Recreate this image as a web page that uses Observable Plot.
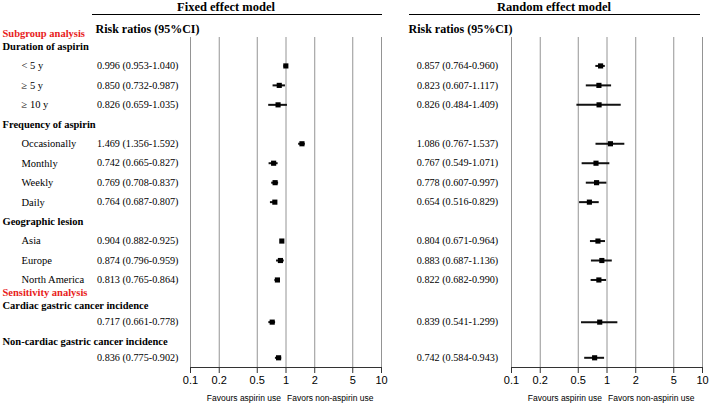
<!DOCTYPE html>
<html><head><meta charset="utf-8">
<script src="https://cdn.jsdelivr.net/npm/d3@7"></script>
<script src="https://cdn.jsdelivr.net/npm/@observablehq/plot@0.6"></script>
<style>
body{margin:0;background:#fff;}
#page{position:relative;width:709px;height:404px;overflow:hidden;font-family:"Liberation Serif","Times New Roman",serif;}
.title{position:absolute;top:0;font-weight:bold;font-size:12.5px;line-height:14px;text-align:center;white-space:nowrap;}
.rule{position:absolute;top:14px;height:0;border-top:1.5px solid #000;}
.panel{position:absolute;top:18px;}
</style></head><body>
<div id="page">
  <div class="title" id="t1" style="left:136px;width:180px;"></div>
  <div class="rule" style="left:92px;width:290px;"></div>
  <div class="title" id="t2" style="left:464px;width:180px;"></div>
  <div class="rule" style="left:409px;width:291px;"></div>
  <div class="panel" id="fixed" style="left:0px"></div>
  <div class="panel" id="random" style="left:390px"></div>
</div>
<script>
// ---- data ----
const panelTitles = ["Fixed effect model", "Random effect model"];
const columnHeader = "Risk ratios (95%CI)";
const rowLabels = ["Subgroup analysis", "Duration of aspirin", "< 5 y", "≥ 5 y", "≥ 10 y",
  "Frequency of aspirin", "Occasionally", "Monthly", "Weekly", "Daily",
  "Geographic lesion", "Asia", "Europe", "North America",
  "Sensitivity analysis", "Cardiac gastric cancer incidence", "", "Non-cardiac gastric cancer incidence", ""];
const rowKinds = ["section", "group", "item", "item", "item",
  "group", "item", "item", "item", "item",
  "group", "item", "item", "item",
  "section", "group", "value", "group", "value"];
const fixedRR   = [null, null, 0.996, 0.850, 0.826, null, 1.469, 0.742, 0.769, 0.764, null, 0.904, 0.874, 0.813, null, null, 0.717, null, 0.836];
const fixedLow  = [null, null, 0.953, 0.732, 0.659, null, 1.356, 0.665, 0.708, 0.687, null, 0.882, 0.796, 0.765, null, null, 0.661, null, 0.775];
const fixedHigh = [null, null, 1.040, 0.987, 1.035, null, 1.592, 0.827, 0.837, 0.807, null, 0.925, 0.959, 0.864, null, null, 0.778, null, 0.902];
const randomRR   = [null, null, 0.857, 0.823, 0.826, null, 1.086, 0.767, 0.778, 0.654, null, 0.804, 0.883, 0.822, null, null, 0.839, null, 0.742];
const randomLow  = [null, null, 0.764, 0.607, 0.484, null, 0.767, 0.549, 0.607, 0.516, null, 0.671, 0.687, 0.682, null, null, 0.541, null, 0.584];
const randomHigh = [null, null, 0.960, 1.117, 1.409, null, 1.537, 1.071, 0.997, 0.829, null, 0.964, 1.136, 0.990, null, null, 1.299, null, 0.943];
const tickValues = [0.1, 0.2, 0.5, 1, 2, 5, 10];
const favourLabels = ["Favours aspirin use", "Favors non-aspirin use"];

document.getElementById("t1").textContent = panelTitles[0];
document.getElementById("t2").textContent = panelTitles[1];

// ---- row layout (ordinal row units) ----
const gapByKind = {section: 2, group: 3, item: 3, value: 2.5};
let acc = 0;
const rows = rowLabels.map((label, i) => {
  const kind = rowKinds[i];
  if (i > 0) acc += (kind === "group" && rowKinds[i - 1] === "section") ? 2 : gapByKind[kind];
  return {label, kind, line: acc, i};
});
const lastLine = acc;
const fmt = d3.format(".3f");

function panel({width, marginLeft, marginRight, est, lo, hi, valueDx, valueAnchor, headerDx, labels}) {
  const data = rows.map(r => ({...r, est: est[r.i], lo: lo[r.i], hi: hi[r.i]})).filter(d => d.est != null);
  const marks = [
    Plot.ruleX(tickValues, {stroke: "#949494", strokeWidth: 1}),
    Plot.frame({anchor: "bottom", stroke: "#333", strokeWidth: 1}),
    Plot.axisX({ticks: tickValues, tickFormat: d => String(d), tickSize: 6, tickPadding: 3,
      fontSize: 11, fontFamily: "Liberation Sans, Arial, sans-serif", stroke: "#333", fill: "#000"}),
    Plot.ruleY(data, {y: "line", x1: "lo", x2: "hi", stroke: "#111", strokeWidth: 2}),
    Plot.dot(data, {x: "est", y: "line", symbol: "square", r: 2.9, fill: "#000", stroke: null}),
    Plot.text(data, {y: "line", text: d => `${fmt(d.est)} (${fmt(d.lo)}-${fmt(d.hi)})`,
      frameAnchor: "left", lineAnchor: "middle", dx: valueDx, textAnchor: valueAnchor, fontSize: 10.2, fill: "#000"}),
    Plot.text([columnHeader], {text: d => d, frameAnchor: "top-left", lineAnchor: "middle", dx: headerDx, dy: -8,
      textAnchor: "start", fontWeight: "bold", fontSize: 12, fill: "#000"}),
    Plot.text([{ratio: 1, label: favourLabels[0]}], {x: "ratio", text: "label", frameAnchor: "bottom", lineAnchor: "middle",
      dy: 31, dx: -5, textAnchor: "end", fontFamily: "Liberation Sans, Arial, sans-serif", fontSize: 8.5, fill: "#000"}),
    Plot.text([{ratio: 1, label: favourLabels[1]}], {x: "ratio", text: "label", frameAnchor: "bottom", lineAnchor: "middle",
      dy: 31, dx: 1, textAnchor: "start", fontFamily: "Liberation Sans, Arial, sans-serif", fontSize: 8.5, fill: "#000"})
  ];
  if (labels) {
    marks.push(
      Plot.text(rows.filter(d => d.kind === "section"), {y: "line", text: "label", frameAnchor: "left", lineAnchor: "middle",
        dx: -188, textAnchor: "start", fontWeight: "bold", fontSize: 10.5, fill: "#e8211b"}),
      Plot.text(rows.filter(d => d.kind === "group"), {y: "line", text: "label", frameAnchor: "left", lineAnchor: "middle",
        dx: -188, textAnchor: "start", fontWeight: "bold", fontSize: 10.5, fill: "#000"}),
      Plot.text(rows.filter(d => d.kind === "item"), {y: "line", text: "label", frameAnchor: "left", lineAnchor: "middle",
        dx: -169, textAnchor: "start", fontSize: 10.5, fill: "#000"})
    );
  }
  return Plot.plot({
    width, height: 386, marginLeft, marginRight, marginTop: 19, marginBottom: 37,
    style: {fontFamily: "Liberation Serif, Times New Roman, serif", fontSize: "10px", background: "transparent", color: "#000", overflow: "visible"},
    x: {type: "log", domain: [0.1, 10]},
    y: {domain: [0, lastLine], range: [15, 339.3], axis: null},
    marks
  });
}

document.getElementById("fixed").appendChild(panel({
  width: 390, marginLeft: 190, marginRight: 9, est: fixedRR, lo: fixedLow, hi: fixedHigh,
  valueDx: -12, valueAnchor: "end", headerDx: -95, labels: true
}));
document.getElementById("random").appendChild(panel({
  width: 319, marginLeft: 121, marginRight: 7, est: randomRR, lo: randomLow, hi: randomHigh,
  valueDx: -54, valueAnchor: "middle", headerDx: -103, labels: false
}));
</script>
</body></html>
